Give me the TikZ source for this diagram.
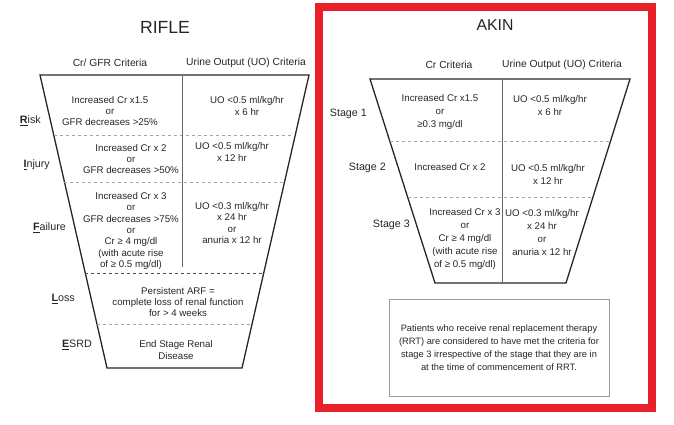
\documentclass[tikz,border=0pt]{standalone}
\usepackage{fontspec}
\setmainfont{Liberation Sans}
\usetikzlibrary{calc}
\definecolor{akinred}{HTML}{E8202A}
\definecolor{txt}{HTML}{262626}
\tikzset{
  cell/.style={align=center,text=txt,inner sep=0pt,font=\fontsize{9.7}{11.3}\selectfont},
  akincell/.style={cell,font=\fontsize{9.7}{13}\selectfont},
  head/.style={text=txt,inner sep=0pt,font=\fontsize{10.3}{12}\selectfont},
  title/.style={text=txt,inner sep=0pt},
  grade/.style={text=txt,inner sep=0pt,anchor=east,font=\fontsize{10.7}{12}\selectfont},
  funnel/.style={line width=1.3pt,black!85},
  split/.style={black!35,dashed,line width=0.6pt},
  colsplit/.style={black!60,line width=0.7pt},
}
\begin{document}
\begin{tikzpicture}[x=1pt,y=-1pt]
\useasboundingbox (0,0) rectangle (674,425);
% RIFLE
\node[title,font=\fontsize{17.6}{20}\selectfont] (rifle) at (165,27) {RIFLE};
\node[head] (rcrhead) at (110,63) {Cr/ GFR Criteria};
\node[head] (ruohead) at (246,63) {Urine Output (UO) Criteria};
\coordinate (rtl) at (40,75);
\coordinate (rtr) at (309,75);
\coordinate (rbr) at (242,368);
\coordinate (rbl) at (107,368);
\draw[funnel] (rtl) -- (rtr) -- (rbr) -- (rbl) -- cycle;
\foreach \t in {0.2048,0.3652,0.8498}
  \draw[split] ($(rtl)!\t!(rbl)$) -- ($(rtr)!\t!(rbr)$);
\draw[dashed,black!70,line width=0.7pt] ($(rtl)!0.6758!(rbl)$) -- ($(rtr)!0.6758!(rbr)$);
\draw[colsplit] (182,75) -- (182,267);
\node[grade] (risk) at (41,121) {\underline{\textbf{R}}isk};
\node[grade] (injury) at (50,165) {\underline{\textbf{I}}njury};
\node[grade] (failure) at (66,228) {\underline{\textbf{F}}ailure};
\node[grade] (loss) at (75,299) {\underline{\textbf{L}}oss};
\node[grade] (esrd) at (92,345) {\underline{\textbf{E}}SRD};
\node[cell] (riskcr) at (110,111) {Increased Cr x1.5\\or\\GFR decreases >25\%};
\node[cell] (riskuo) at (247,106) {UO <0.5 ml/kg/hr\\x 6 hr};
\node[cell] (injurycr) at (131,159) {Increased Cr x 2\\or\\GFR decreases >50\%};
\node[cell] (injuryuo) at (232,152) {UO <0.5 ml/kg/hr\\x 12 hr};
\node[cell] (failurecr) at (131,231) {Increased Cr x 3\\or\\GFR decreases >75\%\\or\\Cr ≥ 4 mg/dl\\(with acute rise\\of ≥ 0.5 mg/dl)};
\node[cell] (failureuo) at (232,223) {UO <0.3 ml/kg/hr\\x 24 hr\\or\\anuria x 12 hr};
\node[cell] (losstext) at (178,302) {Persistent ARF =\\complete loss of renal function\\for > 4 weeks};
\node[cell] (esrdtext) at (176,350) {End Stage Renal\\Disease};
% AKIN
\draw[akinred,line width=8pt] (319,7.5) rectangle (651.5,407.5);
\node[title,font=\fontsize{15.8}{18}\selectfont] (akin) at (495,25) {AKIN};
\node[head] (acrhead) at (449,65) {Cr Criteria};
\node[head] (auohead) at (562,65) {Urine Output (UO) Criteria};
\coordinate (atl) at (370,79);
\coordinate (atr) at (630,79);
\coordinate (abr) at (566,283);
\coordinate (abl) at (435,283);
\draw[funnel] (atl) -- (atr) -- (abr) -- (abl) -- cycle;
\foreach \t in {0.304,0.578}
  \draw[split] ($(atl)!\t!(abl)$) -- ($(atr)!\t!(abr)$);
\draw[colsplit] (502,79) -- (502,283);
\node[grade] (stage1) at (367,114) {Stage 1};
\node[grade] (stage2) at (386,168) {Stage 2};
\node[grade] (stage3) at (410,225) {Stage 3};
\node[akincell] (s1cr) at (440,112) {Increased Cr x1.5\\or\\≥0.3 mg/dl};
\node[akincell] (s1uo) at (550,106) {UO <0.5 ml/kg/hr\\x 6 hr};
\node[akincell] (s2cr) at (450,167) {Increased Cr x 2};
\node[akincell] (s2uo) at (548,174) {UO <0.5 ml/kg/hr\\x 12 hr};
\node[akincell] (s3cr) at (465,239) {Increased Cr x 3\\or\\Cr ≥ 4 mg/dl\\(with acute rise\\of ≥ 0.5 mg/dl)};
\node[akincell] (s3uo) at (542,233) {UO <0.3 ml/kg/hr\\x 24 hr\\or\\anuria x 12 hr};
\node[draw=black!40,line width=0.6pt,minimum width=220pt,minimum height=97pt,inner sep=0pt] (rrtbox) at (499,347.5) {};
\node[akincell,font=\fontsize{9.3}{13}\selectfont] (rrt) at (rrtbox.center) {Patients who receive renal replacement therapy\\(RRT) are considered to have met the criteria for\\stage 3 irrespective of the stage that they are in\\at the time of commencement of RRT.};
\end{tikzpicture}
\end{document}
